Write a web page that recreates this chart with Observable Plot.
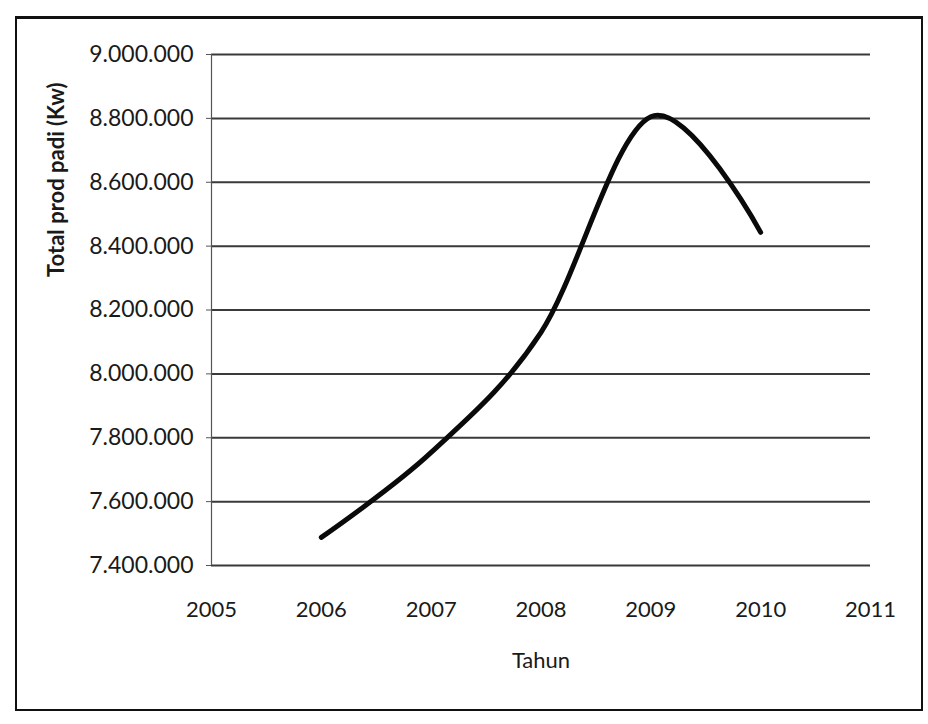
<!DOCTYPE html>
<html>
<head>
<meta charset="utf-8">
<script src="https://cdn.jsdelivr.net/npm/d3@7"></script>
<script src="https://cdn.jsdelivr.net/npm/@observablehq/plot@0.6"></script>
<style>
  html, body { margin: 0; padding: 0; background: #fff; }
  #wrap { position: relative; width: 928px; height: 724px; overflow: hidden; }
  #frame { position: absolute; left: 15px; top: 16px; width: 908px; height: 695px;
           border: 2px solid #111; border-top-width: 3px; box-sizing: border-box; pointer-events: none; }
  svg { font-family: Lato, "Open Sans", sans-serif; }
</style>
</head>
<body>
<div id="wrap"><div id="frame"></div></div>
<script>
const years = [2006, 2007, 2008, 2009, 2010];
const production = [7488000, 7754000, 8130000, 8805000, 8443000];
const yTicks = [7400000, 7600000, 7800000, 8000000, 8200000, 8400000, 8600000, 8800000, 9000000];
const xTicks = [2005, 2006, 2007, 2008, 2009, 2010, 2011];
const xTitle = "Tahun";
const yTitle = "Total prod padi (Kw)";

const data = years.map((y, i) => ({year: y, value: production[i]}));
const fmt = d3.formatLocale({decimal: ",", thousands: ".", grouping: [3], currency: ["", ""]}).format(",");

const chart = Plot.plot({
  width: 928,
  height: 724,
  marginLeft: 211,
  marginRight: 58,
  marginTop: 54,
  marginBottom: 159,
  style: {background: "transparent", fontFamily: "Lato, 'Open Sans', sans-serif"},
  x: {domain: [2005, 2011], ticks: xTicks, tickFormat: d => String(d)},
  y: {domain: [7400000, 9000000], ticks: yTicks, tickFormat: fmt},
  marks: [
    Plot.ruleY(yTicks, {stroke: "#3a3a3a", strokeWidth: 2}),
    Plot.ruleX([2005], {stroke: "#555", strokeWidth: 1.2}),
    Plot.axisY({ticks: yTicks, tickFormat: fmt, tickSize: 5, tickPadding: 13, label: null,
                fontSize: 23, fill: "#1a1a1a", stroke: "#555"}),
    Plot.axisX({ticks: xTicks, tickFormat: d => String(d), tickSize: 0, tickPadding: 36, label: null,
                fontSize: 22, fill: "#1a1a1a"}),
    Plot.line(data, {x: "year", y: "value", curve: "cardinal", tension: 0, stroke: "#0a0a0a",
                     strokeWidth: 5, strokeLinecap: "round", strokeLinejoin: "round"}),
    Plot.text([xTitle], {text: d => d, frameAnchor: "bottom", dy: 95, lineAnchor: "middle",
                         fontSize: 22, fill: "#1a1a1a"}),
    Plot.text([yTitle], {text: d => d, frameAnchor: "left", dx: -155, dy: -33, rotate: -90,
                         lineAnchor: "middle", fontSize: 22, fontWeight: "bold", fill: "#1a1a1a"})
  ]
});
document.getElementById("wrap").prepend(chart);
</script>
</body>
</html>
